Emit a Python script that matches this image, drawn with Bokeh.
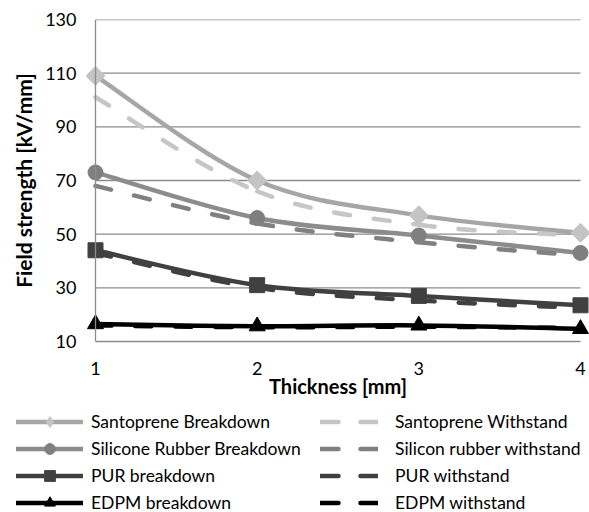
import math
from bokeh.plotting import figure
from bokeh.layouts import column
from bokeh.models import Legend, LegendItem, Range1d, FixedTicker, ColumnDataSource, Span
from bokeh.embed import file_html
from bokeh.resources import INLINE

# ---------------- data ----------------
thickness = [1, 2, 3, 4]
santoprene_breakdown = [109, 70, 57, 50.5]
santoprene_withstand = [101, 66, 53.5, 49.5]
silicone_breakdown = [73, 56, 49.5, 43]
silicone_withstand = [68, 54, 47, 42]
pur_breakdown = [44, 31, 27, 23.5]
pur_withstand = [43, 30, 25.3, 22.5]
edpm_breakdown = [16.5, 15.7, 16, 14.7]
edpm_withstand = [16, 15.3, 15.5, 15]
y_ticks = [10, 30, 50, 70, 90, 110, 130]
x_ticks = [1, 2, 3, 4]

FONT = "Lato"
GRID = "#8c8c8c"

# small padding so the end markers are not clipped (9 px of a 485 px span)
pad = (x_ticks[-1] - x_ticks[0]) * 9 / 485

p = figure(width=589, height=402, output_backend="svg", toolbar_location=None,
           x_range=Range1d(x_ticks[0] - pad, x_ticks[-1] + pad),
           y_range=Range1d(y_ticks[0], y_ticks[-1]),
           min_border_left=86, min_border_right=0, min_border_top=19,
           min_border_bottom=61)
p.outline_line_color = None
p.background_fill_color = "white"
p.border_fill_color = "white"
p.grid.grid_line_color = None

p.yaxis.ticker = FixedTicker(ticks=y_ticks)
p.xaxis.ticker = FixedTicker(ticks=x_ticks)
p.xaxis.bounds = (x_ticks[0], x_ticks[-1])
for ax in (p.xaxis[0], p.yaxis[0]):
    ax.axis_line_color = GRID
    ax.axis_line_width = 1.3
    ax.major_tick_in = 0
    ax.major_tick_out = 0
    ax.minor_tick_line_color = None
    ax.major_label_text_font = FONT
    ax.major_label_text_font_size = "18px"
    ax.major_label_text_color = "black"
    ax.axis_label_text_font = FONT
    ax.axis_label_text_font_style = "bold"
    ax.axis_label_text_color = "black"
p.yaxis.axis_line_color = None
p.xaxis.axis_label = "Thickness [mm]"
p.yaxis.axis_label = "Field strength [kV/mm]"
p.xaxis.axis_label_text_font_size = "20px"
p.yaxis.axis_label_text_font_size = "21px"
p.yaxis.major_label_standoff = 10
p.yaxis.axis_label_standoff = 6
p.xaxis.major_label_standoff = 20
p.xaxis.axis_label_standoff = -4

# horizontal gridlines limited to the category span, vertical axis line at x = 1
grid_y = y_ticks[1:]
p.segment(x0=[x_ticks[0]] * len(grid_y), x1=[x_ticks[-1]] * len(grid_y),
          y0=grid_y, y1=grid_y, line_color=GRID, line_width=1.3)
p.add_layout(Span(location=x_ticks[0], dimension="height",
                  line_color=GRID, line_width=1.3))


def smooth(xs, ys):
    n = len(xs)
    d = dict(x0=[], y0=[], x1=[], y1=[], cx0=[], cy0=[], cx1=[], cy1=[])
    for i in range(n - 1):
        pm = max(i - 1, 0)
        pp = min(i + 2, n - 1)
        d["x0"].append(xs[i]); d["y0"].append(ys[i])
        d["x1"].append(xs[i + 1]); d["y1"].append(ys[i + 1])
        d["cx0"].append(xs[i] + (xs[i + 1] - xs[pm]) / 6)
        d["cy0"].append(ys[i] + (ys[i + 1] - ys[pm]) / 6)
        d["cx1"].append(xs[i + 1] - (xs[pp] - xs[i]) / 6)
        d["cy1"].append(ys[i + 1] - (ys[pp] - ys[i]) / 6)
    return ColumnDataSource(d)


# legend-only figure below the chart (its own frame covers the whole strip)
pl = figure(width=589, height=110, output_backend="svg", toolbar_location=None,
            x_range=Range1d(0, 1), y_range=Range1d(0, 1),
            x_axis_location=None, y_axis_location=None, min_border=0)
pl.outline_line_color = None
pl.grid.visible = False
for fig in (p, pl):
    try:
        fig.frame_align = False
    except Exception:
        pass

series = [
    ("Santoprene Breakdown", santoprene_breakdown, "#a6a6a6", None, "square", "diamond", "#c4c4c4", 13.5, math.pi / 4),
    ("Santoprene Withstand", santoprene_withstand, "#c6c6c6", "16 24", None, None, None, 0, 0),
    ("Silicone Rubber Breakdown", silicone_breakdown, "#8c8c8c", None, "circle", "circle", "#7f7f7f", 15, 0),
    ("Silicon rubber withstand", silicone_withstand, "#808080", "16 24", None, None, None, 0, 0),
    ("PUR breakdown", pur_breakdown, "#404040", None, "square", "square", "#404040", 15, 0),
    ("PUR withstand", pur_withstand, "#404040", "16 24", None, None, None, 0, 0),
    ("EDPM breakdown", edpm_breakdown, "#000000", None, "triangle", "triangle", "#000000", 16, 0),
    ("EDPM withstand", edpm_withstand, "#000000", "16 24", None, None, None, 0, 0),
]

left_items, right_items = [], []
for name, ys, color, dash, marker, leg_marker, mcolor, msize, angle in series:
    lw = 4.5
    dash_str = dash if dash else "solid"
    p.bezier(x0="x0", y0="y0", x1="x1", y1="y1", cx0="cx0", cy0="cy0",
             cx1="cx1", cy1="cy1", source=smooth(thickness, ys),
             line_color=color, line_width=lw, line_dash=dash_str, line_cap="round")
    if marker:
        p.scatter(x=thickness, y=ys, marker=marker, size=msize, angle=angle,
                  fill_color=mcolor, line_color=mcolor)
    # legend samples (their data lies outside the strip's ranges, only the key shows)
    leg_dash = "18 22" if dash else "solid"
    rends = [pl.line(x=thickness, y=ys, line_color=color, line_width=lw,
                     line_dash=leg_dash, line_cap="round")]
    if leg_marker:
        rends.append(pl.scatter(x=thickness, y=ys, marker=leg_marker,
                                fill_color=mcolor, line_color=mcolor))
    item = LegendItem(label=name, renderers=rends)
    (right_items if dash else left_items).append(item)


def make_legend(items, x, gw, standoff):
    return Legend(items=items, location=(x, -4), orientation="vertical",
                  glyph_width=gw, glyph_height=27, label_height=20, spacing=0,
                  label_standoff=standoff, padding=0, margin=0,
                  border_line_color=None, background_fill_alpha=0,
                  label_text_font=FONT, label_text_font_size="17.5px",
                  label_text_color="black")


pl.add_layout(make_legend(left_items, 16, 67, 8))
pl.add_layout(make_legend(right_items, 320, 58, 17))

layout = column(p, pl, spacing=0)
open("out.html", "w").write(file_html(layout, INLINE))
